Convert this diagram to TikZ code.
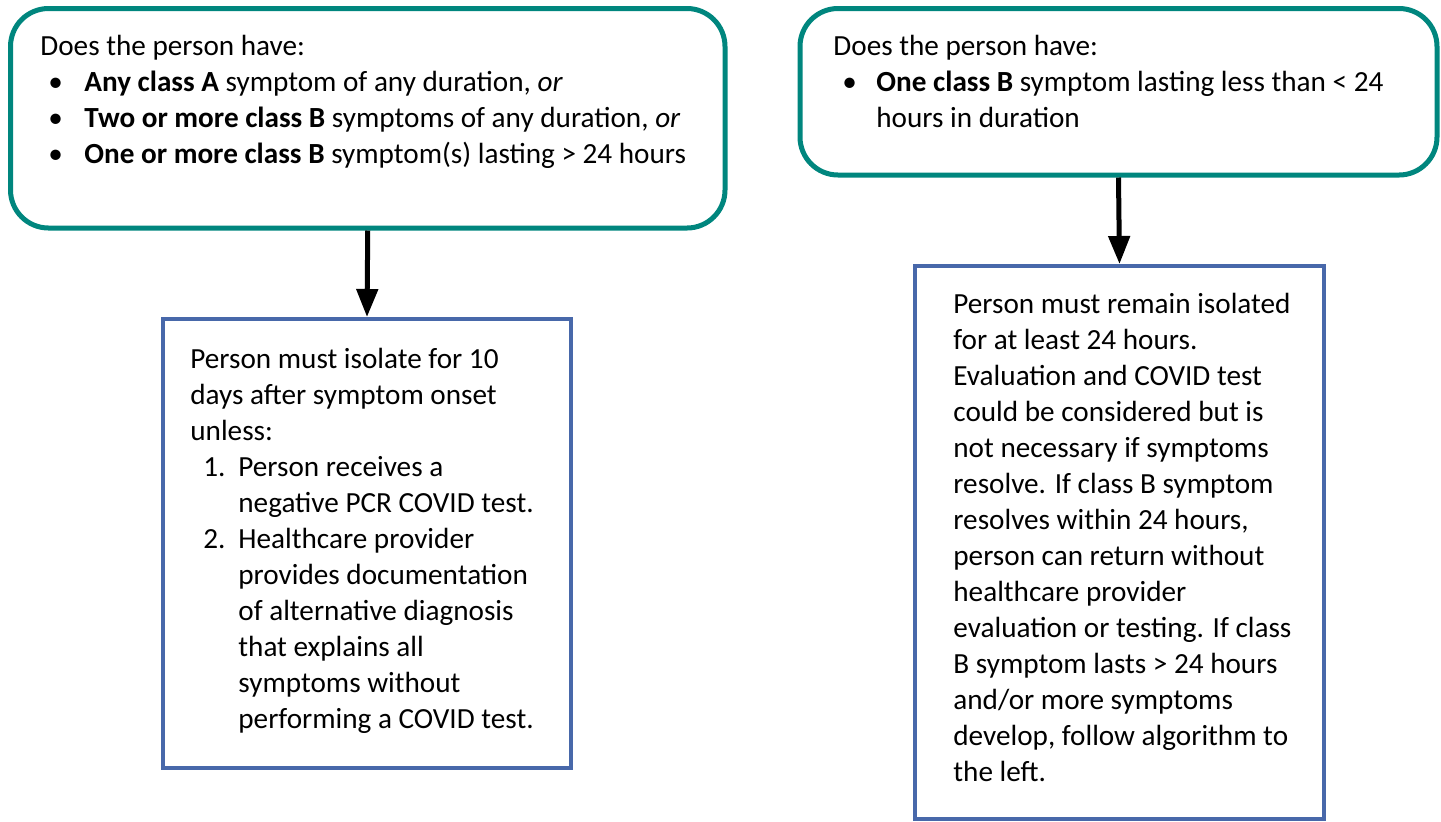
\documentclass[tikz,border=0pt]{standalone}
\usepackage{fontspec}
\setmainfont{Carlito}
\usetikzlibrary{arrows.meta}
\definecolor{qteal}{RGB}{0,134,126}
\definecolor{ablue}{RGB}{72,104,170}
\tikzset{qbox/.style={draw=qteal, line width=2.5pt, rounded corners=19pt},
         abox/.style={draw=ablue, line width=2pt},
         txt/.style={anchor=base west, inner sep=0pt, align=left, font=\fontsize{14.6}{18}\selectfont},
         flow/.style={-{Triangle[length=14pt,width=10.5pt]}, line width=2.5pt, black}}
\newcommand{\bitem}[1]{\hspace*{4pt}\makebox[18pt][l]{\textbullet}#1}
\newcommand{\nitem}[1]{\hspace*{6.5pt}\makebox[17.5pt][l]{#1}}
\newcommand{\indt}{\hspace*{24pt}}

\begin{document}
\begin{tikzpicture}[x=0.5pt,y=-0.5pt]
   \useasboundingbox (0,0) rectangle (1441,821);
   \node[qbox, minimum width=357.25pt, minimum height=109.75pt] (q1) at (367.75,118.25) {};
   \node[qbox, minimum width=318.5pt,  minimum height=83.25pt]  (q2) at (1118.5,91.75) {};
   \node[abox, minimum width=204pt,    minimum height=224.5pt]  (a1) at (367,543.5) {};
   \node[abox, minimum width=204.5pt,  minimum height=276.5pt]  (a2) at (1119.5,542.5) {};
   % base = baseline of the last line
   \node[txt] (t1) at (40,163) {Does the person have:\\
      \bitem{\textbf{Any class A} symptom of any duration, \textit{or}}\\
      \bitem{\textbf{Two or more class B} symptoms of any duration, \textit{or}}\\
      \bitem{\textbf{One or more class B} symptom(s) lasting > 24 hours}};
   \node[txt] (t2) at (833,127) {Does the person have:\\
      \hspace*{4.5pt}\makebox[17pt][l]{\textbullet}\textbf{One class B} symptom lasting less than < 24\\
      \hspace*{21.5pt}hours in duration};
   \node[txt] (t3) at (190,728) {Person must isolate for 10\\
      days after symptom onset\\
      unless:\\
      \nitem{1.}Person receives a\\
      \indt negative PCR COVID test.\\
      \nitem{2.}Healthcare provider\\
      \indt provides documentation\\
      \indt of alternative diagnosis\\
      \indt that explains all\\
      \indt symptoms without\\
      \indt performing a COVID test.};
   \node[txt] (t4) at (953,781) {Person must remain isolated\\
      for at least 24 hours.\\
      Evaluation and COVID test\\
      could be considered but is\\
      not necessary if symptoms\\
      resolve. If class B symptom\\
      resolves within 24 hours,\\
      person can return without\\
      healthcare provider\\
      evaluation or testing. If class\\
      B symptom lasts > 24 hours\\
      and/or more symptoms\\
      develop, follow algorithm to\\
      the left.};
   \draw[flow] (q1.south) -- (a1.north);
   \draw[flow] (q2.south) -- (a2.north);
\end{tikzpicture}
\end{document}
